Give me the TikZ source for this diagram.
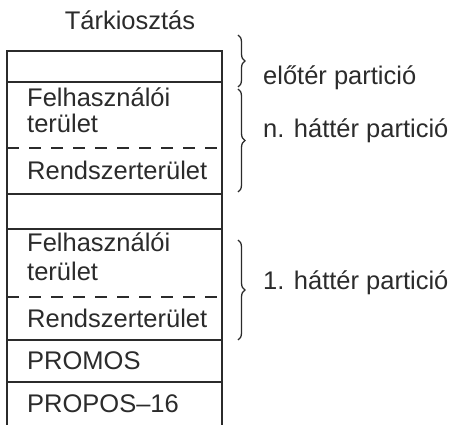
\documentclass[tikz,border=0pt]{standalone}
\usepackage{fontspec}
\setmainfont{Liberation Sans}
\usetikzlibrary{decorations.pathreplacing}
\definecolor{ink}{HTML}{2B2B2B}
\begin{document}
\begin{tikzpicture}[x=1pt,y=-1pt,
  rule/.style={line width=1.4pt, draw=ink},
  dashrule/.style={line width=1.4pt, draw=ink, dash pattern=on 12pt off 10pt},
  txt/.style={anchor=base west, inner sep=0pt, font=\fontsize{25.5}{30}\selectfont, text=ink},
  bracestyle/.style={decorate, decoration={brace, amplitude=7pt}, line width=1.3pt, draw=ink}]
\useasboundingbox (0,0) rectangle (464,425);
% frame
\draw[rule] (7,425) -- (7,51) -- (222,51) -- (222,425);
\draw[rule] (7,82) -- (222,82);
\draw[dashrule] (7,148) -- (222,148);
\draw[rule] (7,194) -- (222,194);
\draw[rule] (7,229) -- (222,229);
\draw[dashrule] (7,297) -- (222,297);
\draw[rule] (7,340) -- (222,340);
\draw[rule] (7,382) -- (222,382);
% texts
\node[txt, anchor=base] (title) at (130,30) {Tárkiosztás};
\node[txt] (f1) at (27,107) {Felhasználói};
\node[txt] (t1) at (27,133) {terület};
\node[txt] (r1) at (27,180) {Rendszerterület};
\node[txt] (f2) at (27,252) {Felhasználói};
\node[txt] (t2) at (27,281) {terület};
\node[txt] (r2) at (27,327) {Rendszerterület};
\node[txt] (pm) at (27,370) {PROMOS};
\node[txt] (pp) at (27,413) {PROPOS–16};
% braces
\draw[bracestyle] (238,35) -- (238,87);
\draw[bracestyle] (238,89) -- (238,192);
\draw[bracestyle] (238,240) -- (238,340);
\node[txt] (elo) at (263,85) {előtér partició};
\node[txt] (nh) at (263,138) {n. háttér partició};
\node[txt] (eh) at (263,290) {1. háttér partició};
\end{tikzpicture}
\end{document}
